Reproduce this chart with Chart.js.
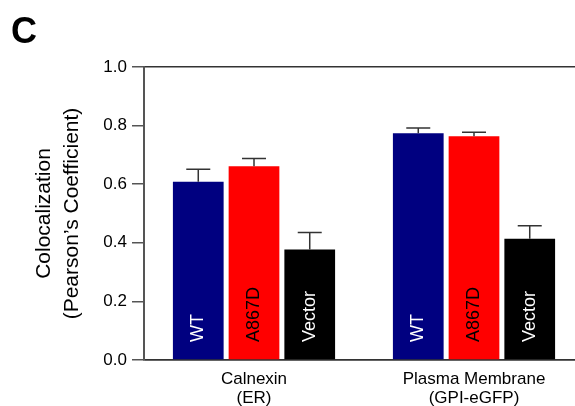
<!DOCTYPE html>
<html lang="en">
<head>
  <meta charset="UTF-8" />
  <title>Colocalization</title>
  <script src="https://cdn.jsdelivr.net/npm/chart.js"></script>
  <style>
    html, body {
      margin: 0;
      padding: 0;
      background: #fff;
      overflow: hidden;
    }
    canvas {
      display: block;
    }
  </style>
</head>
<body>

<canvas id="coloc" width="590" height="406"></canvas>

<script>
  const categories = [['Calnexin', '(ER)'], ['Plasma Membrane', '(GPI-eGFP)']];
  const seriesNames = ['WT', 'A867D', 'Vector'];
  const wtValues = [0.608, 0.774];
  const wtErrors = [0.043, 0.018];
  const a867dValues = [0.661, 0.764];
  const a867dErrors = [0.027, 0.013];
  const vectorValues = [0.377, 0.414];
  const vectorErrors = [0.058, 0.044];
  const yTicks = [0, 0.2, 0.4, 0.6, 0.8, 1.0];

  const FONT = "'Liberation Sans', Arial, Helvetica, sans-serif";

  // error bars on top of each bar
  const errorBars = {
    id: 'errorBars',
    afterDatasetsDraw(chart) {
      const ctx = chart.ctx;
      const y = chart.scales.y;
      ctx.save();
      ctx.strokeStyle = '#333';
      ctx.lineWidth = 1.5;
      chart.data.datasets.forEach((ds, i) => {
        chart.getDatasetMeta(i).data.forEach((bar, j) => {
          const top = y.getPixelForValue(ds.data[j] + ds.errors[j]);
          ctx.beginPath();
          ctx.moveTo(bar.x, bar.y);
          ctx.lineTo(bar.x, top);
          ctx.moveTo(bar.x - 12, top);
          ctx.lineTo(bar.x + 12, top);
          ctx.stroke();
        });
      });
      ctx.restore();
    }
  };

  // vertical series names inside the bars, plus the panel letter
  const barLabels = {
    id: 'barLabels',
    afterDraw(chart) {
      const ctx = chart.ctx;
      const base = chart.scales.y.getPixelForValue(0);
      ctx.save();
      ctx.font = '18px ' + FONT;
      ctx.textAlign = 'left';
      ctx.textBaseline = 'middle';
      chart.data.datasets.forEach((ds, i) => {
        chart.getDatasetMeta(i).data.forEach(bar => {
          ctx.save();
          ctx.translate(bar.x, base - 18);
          ctx.rotate(-Math.PI / 2);
          ctx.fillStyle = ds.textColor;
          ctx.fillText(ds.label, 0, 0);
          ctx.restore();
        });
      });
      ctx.fillStyle = '#000';
      ctx.font = 'bold 36px ' + FONT;
      ctx.textBaseline = 'alphabetic';
      ctx.fillText('C', 11, 43);
      ctx.restore();
    }
  };

  new Chart(document.getElementById('coloc'), {
    type: 'bar',
    data: {
      labels: categories,
      datasets: [
        { label: seriesNames[0], data: wtValues, errors: wtErrors, backgroundColor: '#000080', textColor: '#fff' },
        { label: seriesNames[1], data: a867dValues, errors: a867dErrors, backgroundColor: '#ff0000', textColor: '#000' },
        { label: seriesNames[2], data: vectorValues, errors: vectorErrors, backgroundColor: '#000000', textColor: '#fff' }
      ]
    },
    options: {
      responsive: false,
      animation: false,
      layout: { padding: { top: 67, right: 6, left: 0, bottom: 0 } },
      plugins: {
        legend: { display: false },
        tooltip: { enabled: false }
      },
      datasets: {
        bar: { categoryPercentage: 0.76, barPercentage: 0.91 }
      },
      scales: {
        x: {
          grid: { display: false },
          border: { display: true, color: '#333', width: 1.5 },
          ticks: { color: '#000', font: { family: FONT, size: 17, lineHeight: 1.1 }, padding: 2, maxRotation: 0 },
          afterFit(scale) { scale.height = 46; }
        },
        y: {
          min: 0,
          max: 1,
          afterBuildTicks(scale) { scale.ticks = yTicks.map(v => ({ value: v })); },
          grid: {
            color: c => (c.tick && (c.tick.value === 0 || c.tick.value === 1)) ? '#333' : 'transparent',
            tickColor: '#555',
            lineWidth: 1.5,
            tickLength: 12
          },
          border: { display: true, color: '#555', width: 2 },
          ticks: {
            color: '#000',
            font: { family: FONT, size: 17 },
            padding: 5,
            callback: v => v.toFixed(1)
          },
          title: {
            display: true,
            text: ['Colocalization', '(Pearson\u2019s Coefficient)'],
            color: '#000',
            font: { family: FONT, size: 21, lineHeight: 1.3 },
            padding: { top: 31, bottom: 0 }
          },
          afterFit(scale) { scale.width = 144; }
        }
      }
    },
    plugins: [errorBars, barLabels]
  });
</script>

</body>
</html>
